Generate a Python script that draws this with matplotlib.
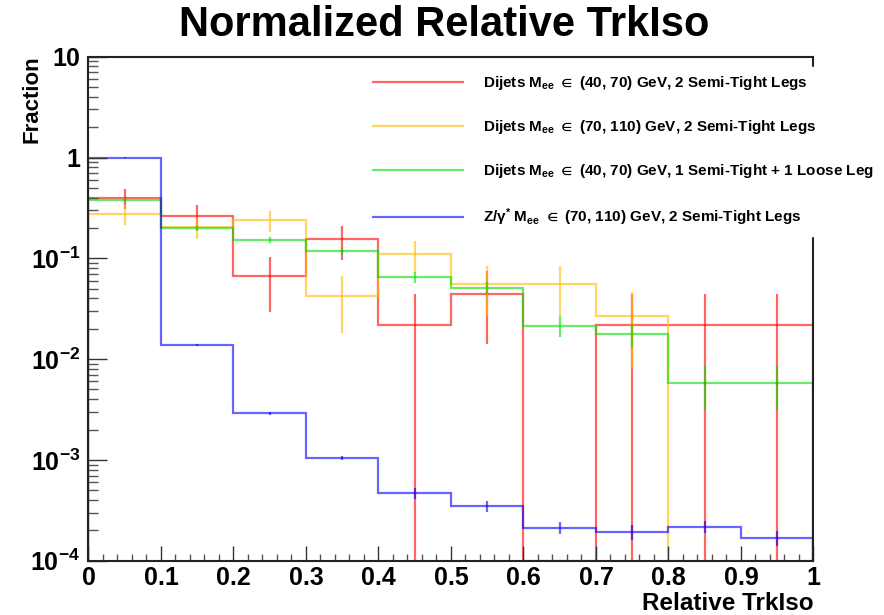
import numpy as np
import matplotlib
matplotlib.use("Agg")
import matplotlib.pyplot as plt
from matplotlib.ticker import FixedLocator, FixedFormatter, LogLocator, NullFormatter

# ------------------------------------------------------------
# data (fraction per bin, 10 bins)
# ------------------------------------------------------------
bin_edges = [0.0, 0.1, 0.2, 0.3, 0.4, 0.5, 0.6, 0.7, 0.8, 0.9, 1.0]

red = [0.40, 0.263, 0.066, 0.154, 0.022, 0.044, 0.0, 0.022, 0.022, 0.022]
red_err = [0.092, 0.073, 0.037, 0.057, 0.022, 0.030, 0.0, 0.022, 0.022, 0.022]

yellow = [0.275, 0.204, 0.238, 0.042, 0.111, 0.055, 0.055, 0.027, 0.0, 0.0]
yellow_err = [0.060, 0.050, 0.055, 0.024, 0.039, 0.028, 0.028, 0.019, 0.0, 0.0]

green = [0.379, 0.199, 0.151, 0.117, 0.065, 0.051, 0.0215, 0.0178, 0.0058, 0.0058]
green_err = [0.015, 0.012, 0.010, 0.010, 0.008, 0.007, 0.005, 0.0046, 0.0027, 0.0027]

blue = [1.0, 0.0138, 0.00292, 0.00105, 0.000468, 0.000347, 0.000213, 0.000194, 0.000218, 0.000169]
blue_err = [0.004, 0.0003, 0.0001, 0.00005, 0.00006, 0.000044, 0.00003, 0.000034, 0.00003, 0.00003]

labels = [
    r"Dijets M$_{\mathregular{ee}}$ $\in$ (40, 70) GeV, 2 Semi-Tight Legs",
    r"Dijets M$_{\mathregular{ee}}$ $\in$ (70, 110) GeV, 2 Semi-Tight Legs",
    r"Dijets M$_{\mathregular{ee}}$ $\in$ (40, 70) GeV, 1 Semi-Tight + 1 Loose Leg",
    r"Z/γ$^{*}$ M$_{\mathregular{ee}}$ $\in$ (70, 110) GeV, 2 Semi-Tight Legs",
]
colors = ["#ff0000", "#ffbb00", "#00e000", "#0000ff"]

y_ticks = [1e-4, 1e-3, 1e-2, 1e-1, 1, 10]
y_ticklabels = [r"$10^{-4}$", r"$10^{-3}$", r"$10^{-2}$", r"$10^{-1}$", "1", "10"]
x_ticks = [0, 0.1, 0.2, 0.3, 0.4, 0.5, 0.6, 0.7, 0.8, 0.9, 1]
x_ticklabels = ["0", "0.1", "0.2", "0.3", "0.4", "0.5", "0.6", "0.7", "0.8", "0.9", "1"]

# ------------------------------------------------------------
plt.rcParams['font.family'] = ['Liberation Sans', 'DejaVu Sans']
plt.rcParams['font.weight'] = 'bold'
plt.rcParams['mathtext.fontset'] = 'custom'
plt.rcParams['mathtext.rm'] = 'Liberation Sans:bold'
plt.rcParams['mathtext.it'] = 'Liberation Sans:bold'
plt.rcParams['mathtext.bf'] = 'Liberation Sans:bold'
plt.rcParams['mathtext.fallback'] = 'stixsans'

fig = plt.figure(figsize=(8.84, 6.15), dpi=100)
ax = fig.add_axes([0.1001, 0.0883, 0.8201, 0.8195])
ymin, ymax = 1e-4, 10
ax.set_yscale('log')

edges = np.array(bin_edges)
centers = 0.5 * (edges[:-1] + edges[1:])
handles = []
for vals, errs, col, lab in zip([red, yellow, green, blue],
                                [red_err, yellow_err, green_err, blue_err],
                                colors, labels):
    vals = np.array(vals)
    errs = np.array(errs)
    # empty bins sit on the bottom of the log axis (like ROOT)
    drawn = np.where(vals > 0, vals, ymin)
    h = ax.stairs(drawn, edges, color=col, alpha=0.6, linewidth=1.6, label=lab)
    handles.append(h)
    nz = vals > 0
    lo = np.minimum(errs[nz], vals[nz] - 1e-7)
    ax.errorbar(centers[nz], vals[nz], yerr=[lo, errs[nz]], fmt='none',
                ecolor=col, alpha=0.6, elinewidth=1.6, capsize=0)

ax.set_xlim(0, 1)
ax.set_ylim(ymin, ymax)

ax.xaxis.set_major_locator(FixedLocator(x_ticks))
ax.xaxis.set_major_formatter(FixedFormatter(x_ticklabels))
ax.xaxis.set_minor_locator(FixedLocator(np.arange(0, 1.001, 0.02)))
ax.yaxis.set_major_locator(FixedLocator(y_ticks))
ax.yaxis.set_major_formatter(FixedFormatter(y_ticklabels))
ax.yaxis.set_minor_locator(LogLocator(base=10, subs=np.arange(2, 10)))
ax.yaxis.set_minor_formatter(NullFormatter())

ax.tick_params(axis='x', which='major', direction='in', length=10.5, width=1.0,
               labelsize=18, pad=4, top=False, color='#333333')
ax.tick_params(axis='x', which='minor', direction='in', length=5, width=1.0,
               top=False, color='#555555')
ax.tick_params(axis='y', which='major', direction='in', length=14, width=1.0,
               labelsize=18, pad=6, right=False, color='#333333')
ax.tick_params(axis='y', which='minor', direction='in', length=7, width=1.0,
               right=False, color='#555555')
for s in ax.spines.values():
    s.set_linewidth(1.5)
    s.set_color('#222222')

leg = ax.legend(handles=handles, loc='upper left',
                bbox_to_anchor=(0.4129, 0.8915), bbox_transform=fig.transFigure,
                fontsize=11, frameon=True, fancybox=False, framealpha=1,
                facecolor='white', edgecolor='white', handlelength=5.9,
                handletextpad=1.35, labelspacing=1.7, borderpad=0.5,
                borderaxespad=0)
for line in leg.get_lines():
    line.set_linewidth(1.6)

fig.text(0.503, 0.959, 'Normalized Relative TrkIso', ha='center', va='center',
         fontsize=30, fontweight='bold')
fig.text(0.036, 0.9106, 'Fraction', rotation=90, ha='center', va='top',
         fontsize=16, fontweight='bold')
fig.text(0.920, 0.0195, 'Relative TrkIso', ha='right', va='center',
         fontsize=17.5, fontweight='bold')

fig.savefig('out.png', dpi=100)
